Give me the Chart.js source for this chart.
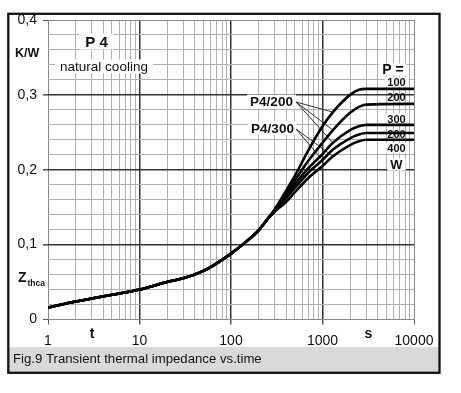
<!DOCTYPE html>
<html><head><meta charset="utf-8">
<script src="https://cdn.jsdelivr.net/npm/chart.js@4.4.0/dist/chart.umd.min.js"></script>
<style>html,body{margin:0;padding:0;background:#fff;overflow:hidden}canvas{display:block}</style>
</head><body>
<canvas id="c" width="461" height="393"></canvas>
<script>
// ---- data ----
const xTickLabels = ['1', '10', '100', '1000', '10000'];
const yTickLabels = ['0', '0,1', '0,2', '0,3', '0,4'];
const tCommon = [1, 2, 3, 5, 10, 20, 30, 50, 70, 100, 150, 200, 250];
const zCommon = [0.016, 0.024, 0.028, 0.033, 0.040, 0.050, 0.055, 0.065, 0.075, 0.088, 0.105, 0.119, 0.134];
const tTail = [300, 400, 500, 700, 1000, 1300, 2000, 2500, 3000, 10000];
const zP4_200_100W = [0.147, 0.172, 0.192, 0.226, 0.258, 0.277, 0.300, 0.307, 0.308, 0.308];
const zP4_200_200W = [0.146, 0.169, 0.186, 0.212, 0.236, 0.253, 0.276, 0.284, 0.287, 0.288];
const zP4_200_300W = [0.146, 0.166, 0.181, 0.202, 0.221, 0.236, 0.253, 0.258, 0.260, 0.260];
const zP4_300_200W = [0.145, 0.162, 0.176, 0.196, 0.213, 0.227, 0.242, 0.247, 0.249, 0.249];
const zP4_300_400W = [0.144, 0.157, 0.170, 0.189, 0.205, 0.218, 0.233, 0.238, 0.240, 0.240];
const seriesNames = ['P4/200 100 W', 'P4/200 200 W', 'P4/200 300 W', 'P4/300 200 W', 'P4/300 400 W'];
const seriesTails = [zP4_200_100W, zP4_200_200W, zP4_200_300W, zP4_300_200W, zP4_300_400W];

function buildPoints(tail) {
  const pts = tCommon.map((t, i) => ({x: t, y: zCommon[i]}));
  tTail.forEach((t, i) => pts.push({x: t, y: tail[i]}));
  return pts;
}

const FONT = "'Liberation Sans', Arial, Helvetica, sans-serif";
const isDecade = v => Math.abs(Math.log10(v) - Math.round(Math.log10(v))) < 1e-9;
const isMajorY = v => Math.round(v * 100) % 10 === 0;

const deco = {
  id: 'deco',
  beforeDraw(chart) {
    const c = chart.ctx;
    c.save();
    c.fillStyle = '#fff';
    c.fillRect(0, 0, chart.width, chart.height);
    c.fillStyle = '#d9d9d9';
    c.fillRect(8, 347, 432, 26);
    c.restore();
  },
  beforeDatasetsDraw(chart) {
    const c = chart.ctx;
    c.save();
    function label(txt, cx, cy, font, pad) {
      c.font = font;
      const w = c.measureText(txt).width;
      if (pad) {
        c.fillStyle = '#fff';
        c.fillRect(cx - w / 2 - pad[0], cy - pad[1], w + 2 * pad[0], 2 * pad[1]);
      }
      c.fillStyle = '#111';
      c.textAlign = 'center';
      c.textBaseline = 'middle';
      c.fillText(txt, cx, cy + 1);
    }
    label('P 4', 96.5, 41.5, "bold 15px " + FONT, [6, 8]);
    label('natural cooling', 104, 66.5, "13.5px " + FONT, [5, 7]);
    label('P =', 393, 69.5, "bold 14px " + FONT, [3, 6]);
    label('100', 396.5, 82, "bold 11px " + FONT, [3, 5]);
    label('200', 396.5, 96.5, "bold 11px " + FONT, null);
    label('300', 396.5, 118.5, "bold 11px " + FONT, [3, 5]);
    label('200', 396.5, 134, "bold 11px " + FONT, null);
    label('400', 396.5, 148, "bold 11px " + FONT, [3, 5]);
    label('W', 396.5, 164.5, "bold 13px " + FONT, [3, 6]);
    label('P4/200', 271.5, 101.5, "bold 13.5px " + FONT, [3, 7]);
    label('P4/300', 272.5, 128, "bold 13.5px " + FONT, [3, 7]);
    // leader lines
    const idx1300 = tCommon.length + tTail.indexOf(1300);
    const idx1000 = tCommon.length + tTail.indexOf(1000);
    c.strokeStyle = '#222';
    c.lineWidth = 0.9;
    const lead = (x0, y0, ds, idx) => {
      const p = chart.getDatasetMeta(ds).data[idx];
      c.beginPath(); c.moveTo(x0, y0); c.lineTo(p.x, p.y); c.stroke();
    };
    lead(296, 102, 0, idx1300);
    lead(296, 102, 1, idx1300);
    lead(296, 102, 2, idx1300);
    lead(296, 129, 3, idx1000);
    lead(296, 129, 4, idx1300);
    c.restore();
  },
  afterDraw(chart) {
    const c = chart.ctx;
    c.save();
    c.strokeStyle = '#111';
    c.lineWidth = 2.3;
    c.strokeRect(8.3, 13.8, 431.2, 359);
    c.fillStyle = '#111';
    c.textBaseline = 'alphabetic';
    c.textAlign = 'left';
    c.font = "13.2px " + FONT;
    c.fillText('Fig.9 Transient thermal impedance vs.time', 13, 363);
    c.font = "bold 12.5px " + FONT;
    c.fillText('K/W', 15, 57);
    c.font = "bold 14px " + FONT;
    c.fillText('Z', 18, 282);
    c.font = "bold 8.5px " + FONT;
    c.fillText('thca', 27.5, 285.5);
    c.textAlign = 'center';
    c.font = "bold 14px " + FONT;
    c.fillText('t', 92, 338);
    c.fillText('s', 368.5, 338);
    c.restore();
  }
};

new Chart(document.getElementById('c'), {
  type: 'line',
  data: {
    datasets: seriesTails.map((tail, i) => ({
      label: seriesNames[i],
      data: buildPoints(tail),
      borderColor: '#000',
      borderWidth: 2.6,
      pointRadius: 0,
      fill: false,
      cubicInterpolationMode: 'monotone'
    }))
  },
  options: {
    responsive: false,
    animation: false,
    devicePixelRatio: 1,
    layout: {padding: {left: 0, right: 47, top: 20, bottom: 38.5}},
    plugins: {legend: {display: false}, tooltip: {enabled: false}},
    scales: {
      x: {
        type: 'logarithmic',
        min: 1, max: 10000,
        afterBuildTicks(scale) {
          const ticks = [];
          for (let d = 1; d < 10000; d *= 10) for (let m = 1; m < 10; m++) ticks.push({value: m * d});
          ticks.push({value: 10000});
          scale.ticks = ticks;
        },
        afterFit(scale) { scale.height = 35; },
        border: {display: false},
        grid: {
          color: ctx => {
            const v = ctx.tick.value;
            if (v === 1 || v === 10000) return '#8a8a8a';
            return isDecade(v) ? '#333' : '#b0b0b0';
          },
          lineWidth: ctx => (isDecade(ctx.tick.value) && ctx.tick.value !== 1 && ctx.tick.value !== 10000) ? 1.5 : 1,
          tickColor: ctx => isDecade(ctx.tick.value) ? '#555' : 'rgba(0,0,0,0)',
          tickLength: 5
        },
        ticks: {
          autoSkip: false, maxRotation: 0, padding: 8,
          color: '#111',
          font: {family: FONT, size: 14},
          callback: v => isDecade(v) ? xTickLabels[Math.round(Math.log10(v))] : ''
        }
      },
      y: {
        type: 'linear',
        min: 0, max: 0.4,
        afterFit(scale) { scale.width = 48; },
        border: {display: false},
        grid: {
          color: ctx => {
            const v = ctx.tick.value;
            if (Math.round(v * 100) === 0 || Math.round(v * 100) === 40) return '#8a8a8a';
            return isMajorY(v) ? '#333' : '#b0b0b0';
          },
          lineWidth: ctx => (isMajorY(ctx.tick.value) && Math.round(ctx.tick.value * 100) % 40 !== 0) ? 1.6 : 1,
          tickColor: ctx => isMajorY(ctx.tick.value) ? '#555' : 'rgba(0,0,0,0)',
          tickLength: 5
        },
        ticks: {
          stepSize: 0.02, autoSkip: false, padding: 6,
          color: '#111',
          font: {family: FONT, size: 14},
          callback: v => isMajorY(v) ? yTickLabels[Math.round(v * 10)] : ''
        }
      }
    }
  },
  plugins: [deco]
});
</script>
</body></html>
